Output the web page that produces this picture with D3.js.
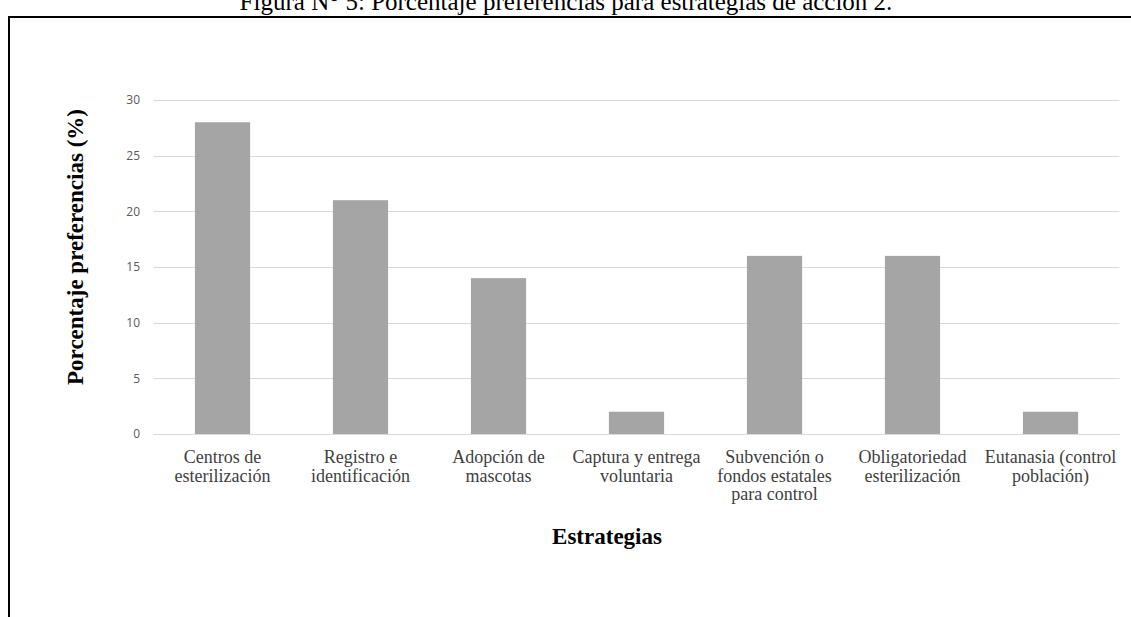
<!DOCTYPE html>
<html><head><meta charset="utf-8">
<script src="https://cdn.jsdelivr.net/npm/d3@7"></script>
<style>body{margin:0;background:#fff}svg{display:block}</style>
</head><body>
<script>
const categories = [
  ["Centros de","esterilización"],
  ["Registro e","identificación"],
  ["Adopción de","mascotas"],
  ["Captura y entrega","voluntaria"],
  ["Subvención o","fondos estatales","para control"],
  ["Obligatoriedad","esterilización"],
  ["Eutanasia (control","población)"]
];
const values = [28, 21, 14, 2, 16, 16, 2];
const yTicks = [0, 5, 10, 15, 20, 25, 30];
const title = "Figura N° 5: Porcentaje preferencias para estrategias de acción 2.";
const xTitle = "Estrategias";
const yTitle = "Porcentaje preferencias (%)";

const W = 1131, H = 617;
const svg = d3.select("body").append("svg").attr("width", W).attr("height", H);

// frame
svg.append("line").attr("x1", 9).attr("x2", 9).attr("y1", 17).attr("y2", H).attr("stroke", "#000").attr("stroke-width", 2);
svg.append("line").attr("x1", 8).attr("x2", W).attr("y1", 17).attr("y2", 17).attr("stroke", "#000").attr("stroke-width", 2);

svg.append("text").attr("x", 566).attr("y", 10).attr("text-anchor", "middle")
  .attr("font-family", "Liberation Serif, Times New Roman, serif").attr("font-size", 25).attr("fill", "#000").text(title);

const idx = categories.map((d, i) => i);
const x = d3.scaleBand().domain(idx).range([153.5, 1119.5]).paddingInner(0.6).paddingOuter(0.3);
const y = d3.scaleLinear().domain([0, 30]).range([434, 100]);

// gridlines
const grid = svg.append("g");
grid.selectAll("line").data(yTicks).join("line")
  .attr("x1", 153.5).attr("x2", 1119.5)
  .attr("y1", d => Math.round(y(d)) + 0.5).attr("y2", d => Math.round(y(d)) + 0.5)
  .attr("stroke", "#d9d9d9").attr("stroke-width", 1);

// y axis labels
const yAxis = d3.axisLeft(y).tickValues(yTicks).tickSize(0).tickPadding(0);
const ya = svg.append("g").attr("transform", "translate(140,0)").call(yAxis);
ya.select(".domain").remove();
ya.selectAll("text").attr("font-family", "Open Sans, Liberation Sans, sans-serif").attr("font-size", 12).attr("fill", "#595959");

// bars
svg.append("g").selectAll("rect").data(values).join("rect")
  .attr("x", (d, i) => x(i)).attr("width", x.bandwidth())
  .attr("y", d => y(d)).attr("height", d => y(0) - y(d))
  .attr("fill", "#a5a5a5");

// x baseline
svg.append("line").attr("x1", 153.5).attr("x2", 1119.5).attr("y1", Math.round(y(0)) + 0.5).attr("y2", Math.round(y(0)) + 0.5)
  .attr("stroke", "#d9d9d9").attr("stroke-width", 1);

// x axis labels
const xAxis = d3.axisBottom(x).tickSize(0).tickFormat("");
const xa = svg.append("g").attr("transform", `translate(0,${y(0)})`).call(xAxis);
xa.select(".domain").remove();
xa.selectAll(".tick").each(function(i) {
  const t = d3.select(this).append("text")
    .attr("text-anchor", "middle").attr("font-family", "Liberation Serif, Times New Roman, serif")
    .attr("font-size", 18).attr("fill", "#404040");
  categories[i].forEach((line, k) => {
    t.append("tspan").attr("x", 0).attr("y", 29 + k * 18.5).text(line);
  });
});

svg.append("text").attr("x", 607).attr("y", 544).attr("text-anchor", "middle")
  .attr("font-family", "Liberation Serif, Times New Roman, serif").attr("font-weight", "bold").attr("font-size", 23).attr("fill", "#000").text(xTitle);

svg.append("text").attr("transform", "translate(83,247) rotate(-90)").attr("text-anchor", "middle")
  .attr("font-family", "Liberation Serif, Times New Roman, serif").attr("font-weight", "bold").attr("font-size", 23).attr("fill", "#000").text(yTitle);
</script>
</body></html>
